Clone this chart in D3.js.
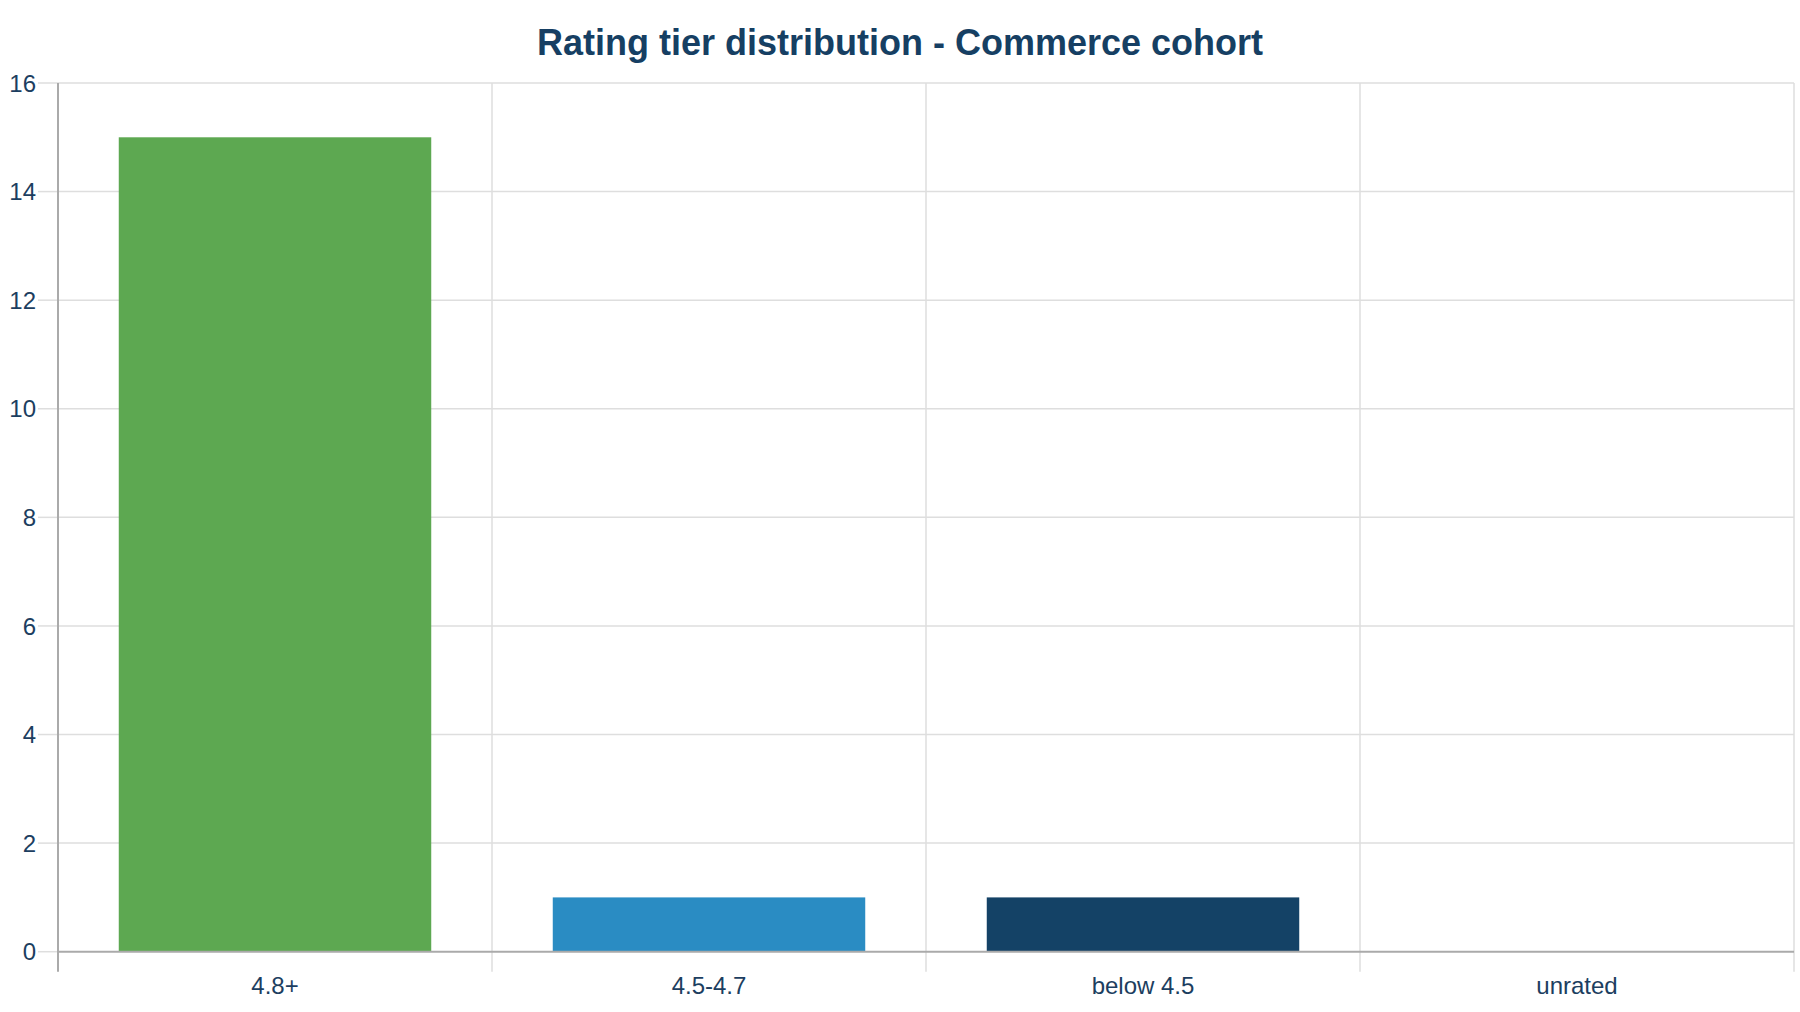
<!DOCTYPE html>
<html>
<head>
<meta charset="utf-8">
<script src="https://cdn.jsdelivr.net/npm/d3@7/dist/d3.min.js"></script>
<style>
html,body{margin:0;padding:0;background:#fff;}
svg{display:block;font-family:"Liberation Sans",Arial,sans-serif;}
</style>
</head>
<body>
<svg id="chart" width="1800" height="1012"></svg>
<script>
const titleText = "Rating tier distribution - Commerce cohort";
const categories = ["4.8+", "4.5-4.7", "below 4.5", "unrated"];
const values = [15, 1, 1, 0];
const barColors = ["#5da851", "#2a8cc3", "#144266", "#8fa7bd"];
const yTicks = [0, 2, 4, 6, 8, 10, 12, 14, 16];

const W = 1800, H = 1012;
const margin = {left: 58, right: 6, top: 83, bottom: 60};
const plotW = W - margin.left - margin.right;
const plotBottom = 951.7;

const svg = d3.select("#chart");

const x = d3.scaleBand().domain(categories).range([margin.left, margin.left + plotW]).padding(0);
const y = d3.scaleLinear().domain([0, 16]).range([plotBottom, margin.top]);

const textColor = "#1c3e60";
const gridColor = "#dedede";
const axisColor = "#aaaaaa";

// horizontal gridlines
svg.append("g").selectAll("line").data(yTicks.filter(d => d > 0)).join("line")
  .attr("x1", margin.left).attr("x2", margin.left + plotW)
  .attr("y1", d => y(d)).attr("y2", d => y(d))
  .attr("stroke", gridColor).attr("stroke-width", 1.5);

// vertical gridlines at band boundaries (extend below axis as ticks)
const bounds = categories.map(c => x(c) + x.bandwidth());
svg.append("g").selectAll("line").data(bounds).join("line")
  .attr("x1", d => d).attr("x2", d => d)
  .attr("y1", margin.top).attr("y2", plotBottom + 20)
  .attr("stroke", gridColor).attr("stroke-width", 1.5);

// y axis ticks (left)
svg.append("g").selectAll("line").data(yTicks).join("line")
  .attr("x1", margin.left - 20).attr("x2", margin.left)
  .attr("y1", d => y(d)).attr("y2", d => y(d))
  .attr("stroke", gridColor).attr("stroke-width", 1.5);

// y labels
svg.append("g").selectAll("text").data(yTicks).join("text")
  .attr("x", margin.left - 22).attr("y", d => y(d))
  .attr("dy", "0.36em")
  .attr("text-anchor", "end")
  .attr("font-size", 24)
  .attr("fill", textColor)
  .text(d => d);

// bars
const barW = x.bandwidth() * 0.72;
svg.append("g").selectAll("rect").data(values.map((v, i) => ({v, c: categories[i], col: barColors[i]}))).join("rect")
  .attr("x", d => x(d.c) + (x.bandwidth() - barW) / 2)
  .attr("width", barW)
  .attr("y", d => y(d.v))
  .attr("height", d => y(0) - y(d.v))
  .attr("fill", d => d.col);

// axes lines
svg.append("line")
  .attr("x1", margin.left).attr("x2", margin.left)
  .attr("y1", margin.top).attr("y2", plotBottom + 20)
  .attr("stroke", axisColor).attr("stroke-width", 2);
svg.append("line")
  .attr("x1", margin.left).attr("x2", margin.left + plotW)
  .attr("y1", plotBottom).attr("y2", plotBottom)
  .attr("stroke", axisColor).attr("stroke-width", 2);

// x labels
svg.append("g").selectAll("text").data(categories).join("text")
  .attr("x", d => x(d) + x.bandwidth() / 2)
  .attr("y", 994)
  .attr("text-anchor", "middle")
  .attr("font-size", 24)
  .attr("fill", textColor)
  .text(d => d);

// title
svg.append("text")
  .attr("x", W / 2).attr("y", 55)
  .attr("text-anchor", "middle")
  .attr("font-size", 36)
  .attr("font-weight", "bold")
  .attr("fill", "#163f63")
  .text(titleText);
</script>
</body>
</html>
